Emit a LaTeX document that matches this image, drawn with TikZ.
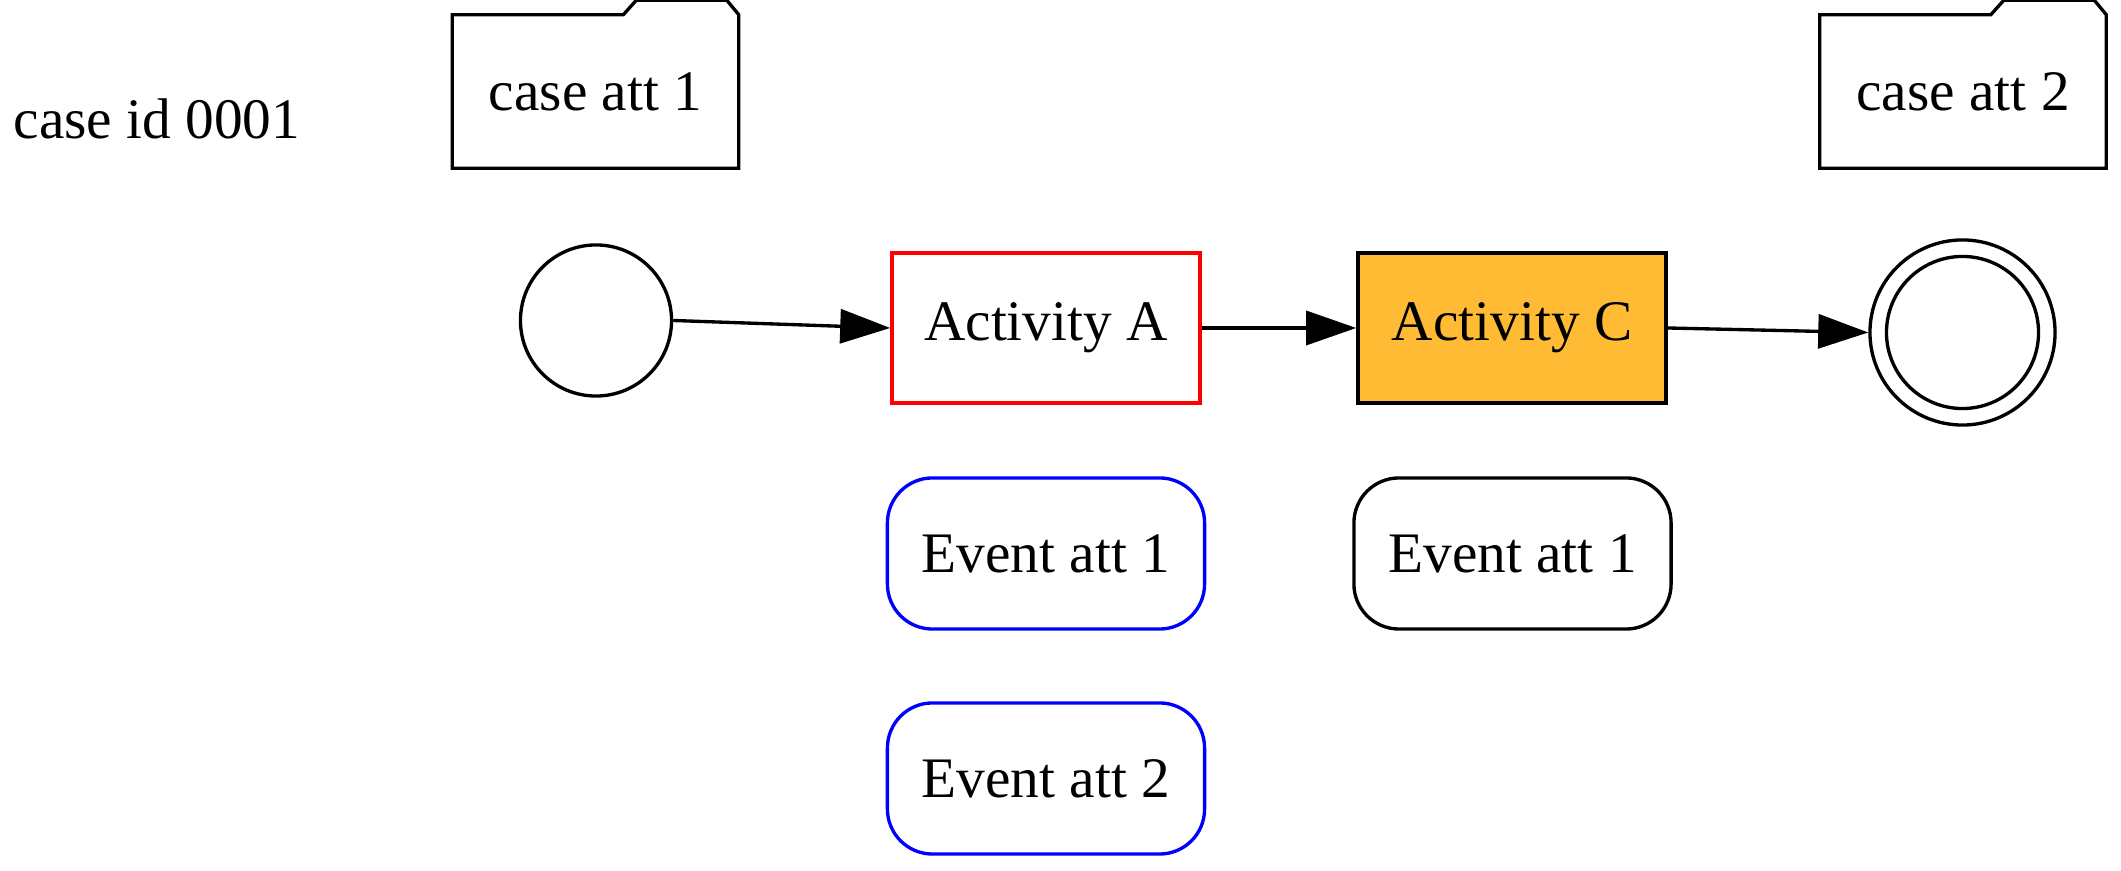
\documentclass[tikz,border=0pt]{standalone}
\usepackage{fontspec}
\setmainfont{Liberation Serif}
\usetikzlibrary{arrows.meta}
\definecolor{actfill}{HTML}{FFBB33}
\begin{document}
\begin{tikzpicture}[x=0.01cm,y=-0.01cm,
  every node/.style={font=\fontsize{16.3}{19}\selectfont, inner sep=0pt},
  lw/.style={line width=0.95pt},
  actbox/.style={lw, draw, rectangle, minimum width=3.08cm, minimum height=1.50cm},
  evbox/.style={lw, draw, rectangle, rounded corners=0.45cm, minimum width=3.17cm, minimum height=1.51cm},
  folderbody/.style={rectangle, minimum width=2.85cm, minimum height=1.52cm},
  flow/.style={lw, -{Triangle[length=0.5cm,width=0.34cm]}}
]
\useasboundingbox (0,0) rectangle (2121,871);

\node (caseid) at (157,119) {case id 0001};

% folders
\node[folderbody] (f1) at (595.5,91.5) {case att 1};
\draw[lw, line join=miter] (f1.south west) -- (f1.north west) -- ([xshift=1.71cm]f1.north west)
  -- ([xshift=1.84cm,yshift=0.145cm]f1.north west) -- ([xshift=-0.12cm,yshift=0.145cm]f1.north east)
  -- (f1.north east) -- (f1.south east) -- cycle;
\node[folderbody] (f2) at (1963,91.5) {case att 2};
\draw[lw, line join=miter] (f2.south west) -- (f2.north west) -- ([xshift=1.71cm]f2.north west)
  -- ([xshift=1.84cm,yshift=0.145cm]f2.north west) -- ([xshift=-0.12cm,yshift=0.145cm]f2.north east)
  -- (f2.north east) -- (f2.south east) -- cycle;

% events
\node[lw, draw, circle, minimum size=1.51cm] (start) at (596,320.5) {};
\node[lw, draw, circle, minimum size=1.85cm] (end) at (1962.5,332.5) {};
\node[lw, draw, circle, minimum size=1.52cm] (endin) at (1962.5,332.5) {};

% activities
\node[actbox, draw=red] (A) at (1046,328) {Activity A};
\node[actbox, fill=actfill] (C) at (1512,328) {Activity C};

% event attributes
\node[evbox, draw=blue] (ea1) at (1046,553.5) {Event att 1};
\node[evbox, draw=blue] (ea2) at (1046,778.5) {Event att 2};
\node[evbox] (ec1) at (1512.5,553.5) {Event att 1};

% flows
\draw[flow] (start.east) -- (A.west);
\draw[flow] (A.east) -- (C.west);
\draw[flow] (C.east) -- (end.west);
\end{tikzpicture}
\end{document}
